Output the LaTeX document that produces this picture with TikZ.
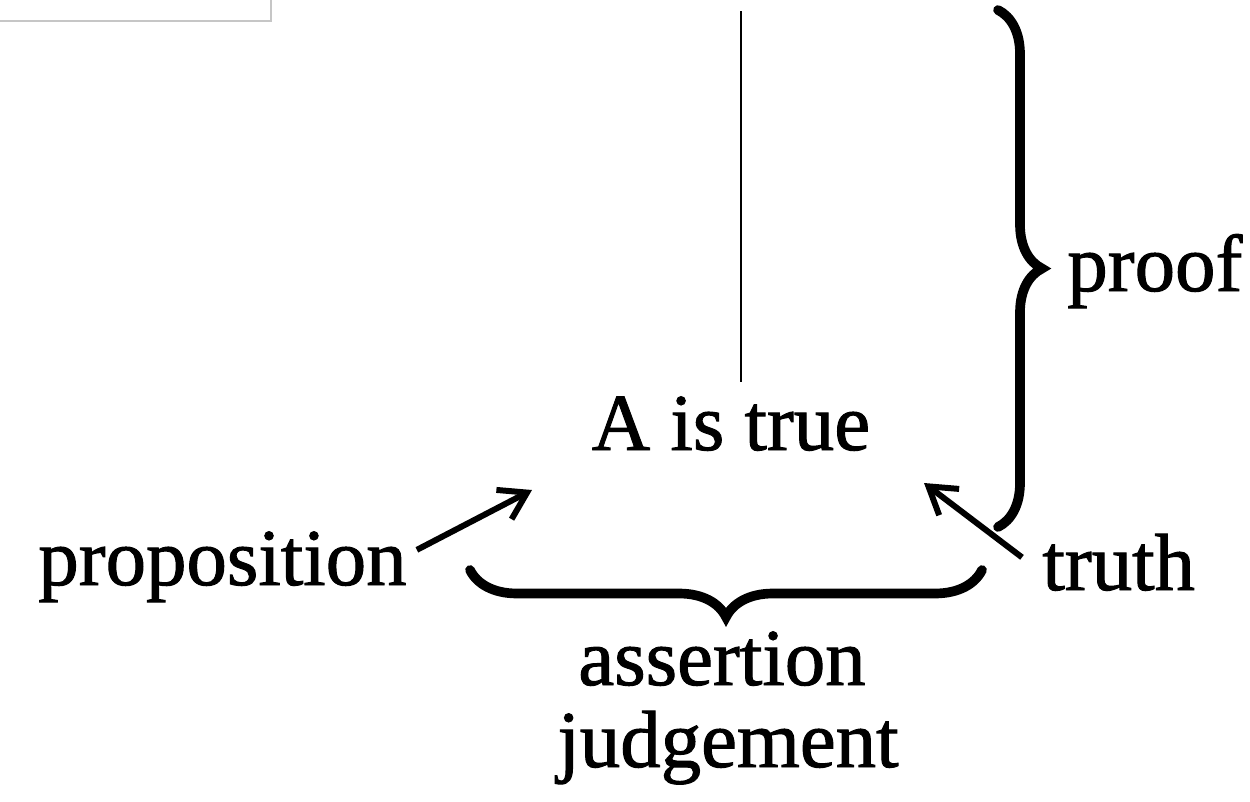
\documentclass[tikz,border=0pt]{standalone}
\usepackage{fontspec}
\setmainfont{Liberation Serif}
\newfontfamily\scanfont{Liberation Serif}[FakeBold=1.2]
\usepackage{tikz}
\usetikzlibrary{arrows.meta,positioning,calc,decorations.pathreplacing}
\tikzset{
  word/.style    = {font=\scanfont\fontsize{46}{55}\selectfont, inner sep=0pt, anchor=base},
  arr/.style     = {-{Straight Barb[length=0.52cm,width=0.66cm]}, line width=3.4pt},
  brcright/.style = {decorate, decoration={brace, amplitude=0.88cm, aspect=0.5},
                     line width=5.5pt, line cap=round},
  brcdown/.style  = {decorate, decoration={brace, mirror, amplitude=0.94cm, aspect=0.5},
                     line width=5.5pt, line cap=round},
}
\begin{document}
\begin{tikzpicture}[x={(0.02cm,0)},y={(0,-0.02cm)}]
\useasboundingbox (0,0) rectangle (1250,801);
\draw[gray!45,line width=0.6pt] (0,21) -- (271,21) -- (271,0);
\node[word,inner sep=8pt] (claim) at (731,450) {A is true};
\node[word,anchor=base west] (proof) at (1067,291) {proof};
\node[word,anchor=base west] (prop) at (38,585) {proposition};
\node[word,anchor=base west] (truth) at (1042,590) {truth};
\node[word] (assert) at (722,685) {assertion};
\node[word] (judge) at (728,767) {judgement};
\coordinate (stemtop) at (741,11);
\draw[line width=1.6pt] (stemtop) -- (stemtop |- claim.north);
\coordinate (ptop) at (998,10);
\coordinate (pbot) at (998,527);
\draw[brcright] (ptop) -- (pbot);
\coordinate (aleft) at (470,570);
\coordinate (aright) at (982,570);
\draw[brcdown] (aleft) -- (aright);
\coordinate (propend) at (532,490);
\coordinate (truthend) at (924,483);
\draw[arr] ([shift={(0.2cm,0.34cm)}]prop.east) -- (propend);
\draw[arr] ([shift={(-0.4cm,0.1cm)}]truth.west) -- (truthend);
\end{tikzpicture}
\end{document}
